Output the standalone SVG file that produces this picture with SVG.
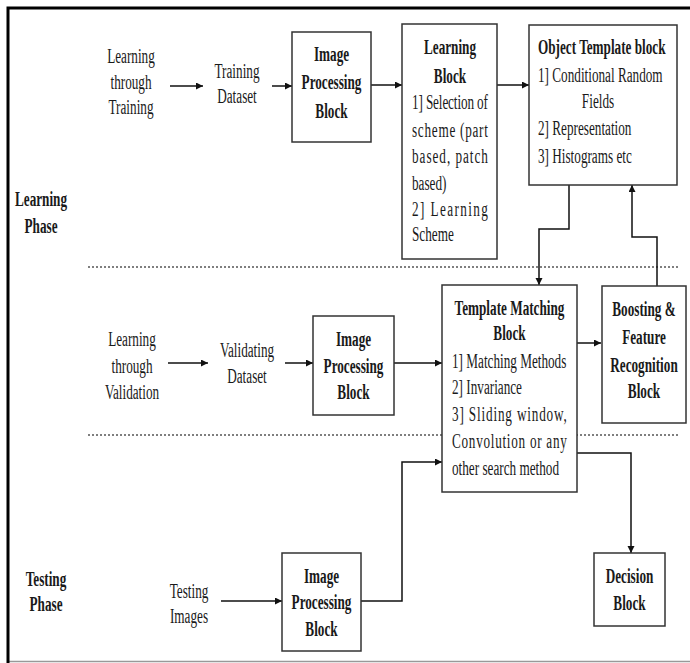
<svg xmlns="http://www.w3.org/2000/svg" width="690" height="663" viewBox="0 0 690 663">
<style>
.t{font-family:"Liberation Serif","Times New Roman",serif;font-size:20px;fill:#1a1a1a}
.b{font-weight:bold}
.m{text-anchor:middle}
.box{fill:#fff;stroke:#333;stroke-width:1.5}
.c{fill:none;stroke:#111;stroke-width:1.5}
.d{fill:none;stroke:#555;stroke-width:1.5;stroke-dasharray:2 2}
</style>
<defs>
<marker id="ah" markerUnits="userSpaceOnUse" markerWidth="8" markerHeight="8" refX="7" refY="3.5" orient="auto">
<path d="M0,0 L7,3.5 L0,7 z" fill="#111"/>
</marker>
</defs>
<rect x="0" y="0" width="690" height="663" fill="#fff"/>
<g id="frame">
<path d="M8,661.5 H690" stroke="#999" stroke-width="1.5" fill="none"/>
<path d="M8,663 V8 H690" stroke="#000" stroke-width="3" fill="none"/>
</g>
<g id="separators">
<path class="d" d="M88,267 H680"/>
<path class="d" d="M88,435 H680"/>
</g>
<g id="connectors">
<path class="c" d="M170,86 H203" marker-end="url(#ah)"/>
<path class="c" d="M272,86 H292" marker-end="url(#ah)"/>
<path class="c" d="M371,85 H402" marker-end="url(#ah)"/>
<path class="c" d="M497,85 H529" marker-end="url(#ah)"/>
<path class="c" d="M569,185 V229 H539 V285" marker-end="url(#ah)"/>
<path class="c" d="M657,287 V237 H632 V185" marker-end="url(#ah)"/>
<path class="c" d="M168,363 H208" marker-end="url(#ah)"/>
<path class="c" d="M285,363 H313" marker-end="url(#ah)"/>
<path class="c" d="M394,363 H442" marker-end="url(#ah)"/>
<path class="c" d="M577,343 H601" marker-end="url(#ah)"/>
<path class="c" d="M221,601 H282" marker-end="url(#ah)"/>
<path class="c" d="M361,601 H402 V462 H442" marker-end="url(#ah)"/>
<path class="c" d="M577,453 H631 V553" marker-end="url(#ah)"/>
</g>
<g id="learning-phase">
<text class="t b m" transform="translate(41,0) scale(0.66,1)"><tspan x="0" y="206">Learning</tspan><tspan x="0" y="233">Phase</tspan></text>
</g>
<g id="testing-phase">
<text class="t b m" transform="translate(46,0) scale(0.66,1)"><tspan x="0" y="586">Testing</tspan><tspan x="0" y="611">Phase</tspan></text>
</g>
<g id="learning-through-training">
<text class="t m" transform="translate(131,0) scale(0.66,1)"><tspan x="0" y="63">Learning</tspan><tspan x="0" y="89">through</tspan><tspan x="0" y="114">Training</tspan></text>
</g>
<g id="training-dataset">
<text class="t m" transform="translate(237,0) scale(0.66,1)"><tspan x="0" y="78">Training</tspan><tspan x="0" y="103">Dataset</tspan></text>
</g>
<g id="image-processing-1">
<rect class="box" x="292" y="32" width="79" height="110"/>
<text class="t b m" transform="translate(331.5,0) scale(0.66,1)"><tspan x="0" y="61">Image</tspan><tspan x="0" y="89">Processing</tspan><tspan x="0" y="118">Block</tspan></text>
</g>
<g id="learning-block">
<rect class="box" x="402" y="24" width="95" height="235"/>
<text class="t b m" transform="translate(450,0) scale(0.66,1)"><tspan x="0" y="54">Learning</tspan><tspan x="0" y="83">Block</tspan></text>
<text class="t" transform="translate(412,0) scale(0.66,1)"><tspan x="0" y="109" textLength="115" lengthAdjust="spacing">1] Selection of</tspan></text>
<text class="t" transform="translate(412,0) scale(0.66,1)"><tspan x="0" y="137" textLength="115" lengthAdjust="spacing">scheme (part</tspan></text>
<text class="t" transform="translate(412,0) scale(0.66,1)"><tspan x="0" y="163" textLength="115" lengthAdjust="spacing">based, patch</tspan></text>
<text class="t" transform="translate(412,0) scale(0.66,1)"><tspan x="0" y="190">based)</tspan></text>
<text class="t" transform="translate(412,0) scale(0.66,1)"><tspan x="0" y="216" textLength="115" lengthAdjust="spacing">2] Learning</tspan></text>
<text class="t" transform="translate(412,0) scale(0.66,1)"><tspan x="0" y="241">Scheme</tspan></text>
</g>
<g id="object-template-block">
<rect class="box" x="529" y="25" width="148" height="160"/>
<text class="t b" transform="translate(538,0) scale(0.66,1)"><tspan x="0" y="54">Object Template block</tspan></text>
<text class="t" transform="translate(538,0) scale(0.66,1)"><tspan x="0" y="82">1] Conditional Random</tspan><tspan x="0" y="135">2] Representation</tspan><tspan x="0" y="163">3] Histograms etc</tspan></text>
<text class="t m" transform="translate(598,0) scale(0.66,1)"><tspan x="0" y="108">Fields</tspan></text>
</g>
<g id="learning-through-validation">
<text class="t m" transform="translate(132,0) scale(0.66,1)"><tspan x="0" y="346">Learning</tspan><tspan x="0" y="373">through</tspan><tspan x="0" y="399">Validation</tspan></text>
</g>
<g id="validating-dataset">
<text class="t m" transform="translate(247,0) scale(0.66,1)"><tspan x="0" y="357">Validating</tspan><tspan x="0" y="383">Dataset</tspan></text>
</g>
<g id="image-processing-2">
<rect class="box" x="313" y="316" width="81" height="99"/>
<text class="t b m" transform="translate(353.5,0) scale(0.66,1)"><tspan x="0" y="346">Image</tspan><tspan x="0" y="373">Processing</tspan><tspan x="0" y="399">Block</tspan></text>
</g>
<g id="template-matching-block">
<rect class="box" x="442" y="285" width="135" height="207"/>
<text class="t b m" transform="translate(509.5,0) scale(0.66,1)"><tspan x="0" y="315">Template Matching</tspan><tspan x="0" y="340">Block</tspan></text>
<text class="t" transform="translate(452,0) scale(0.66,1)"><tspan x="0" y="368">1] Matching Methods</tspan></text>
<text class="t" transform="translate(452,0) scale(0.66,1)"><tspan x="0" y="394">2] Invariance</tspan></text>
<text class="t" transform="translate(452,0) scale(0.66,1)"><tspan x="0" y="421" textLength="174" lengthAdjust="spacing">3] Sliding window,</tspan></text>
<text class="t" transform="translate(452,0) scale(0.66,1)"><tspan x="0" y="448" textLength="174" lengthAdjust="spacing">Convolution or any</tspan></text>
<text class="t" transform="translate(452,0) scale(0.66,1)"><tspan x="0" y="475">other search method</tspan></text>
</g>
<g id="boosting-block">
<rect class="box" x="602" y="286" width="84" height="137"/>
<text class="t b m" transform="translate(644,0) scale(0.66,1)"><tspan x="0" y="316">Boosting &amp;</tspan><tspan x="0" y="344">Feature</tspan><tspan x="0" y="372">Recognition</tspan><tspan x="0" y="398">Block</tspan></text>
</g>
<g id="testing-images">
<text class="t m" transform="translate(189,0) scale(0.66,1)"><tspan x="0" y="598">Testing</tspan><tspan x="0" y="623">Images</tspan></text>
</g>
<g id="image-processing-3">
<rect class="box" x="282" y="553" width="79" height="98"/>
<text class="t b m" transform="translate(321.5,0) scale(0.66,1)"><tspan x="0" y="583">Image</tspan><tspan x="0" y="609">Processing</tspan><tspan x="0" y="636">Block</tspan></text>
</g>
<g id="decision-block">
<rect class="box" x="594" y="553" width="71" height="73"/>
<text class="t b m" transform="translate(629.5,0) scale(0.66,1)"><tspan x="0" y="583">Decision</tspan><tspan x="0" y="610">Block</tspan></text>
</g>
</svg>
